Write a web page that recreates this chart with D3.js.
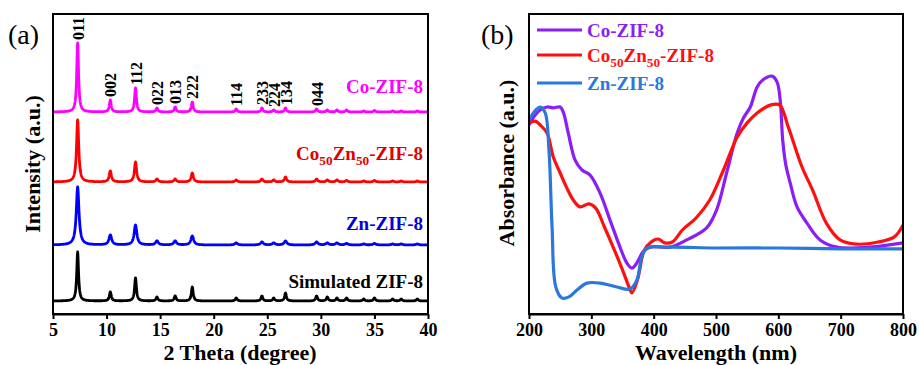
<!DOCTYPE html>
<html>
<head>
<meta charset="utf-8">
<script src="https://cdn.jsdelivr.net/npm/d3@7"></script>
<style>
  html, body { margin: 0; padding: 0; background: #fff; }
  svg { display: block; }
  text { font-family: "Liberation Serif", "Times New Roman", serif; }
</style>
</head>
<body>
<svg id="chart" width="919" height="365"></svg>
<script>
// ---------- (a) XRD patterns ----------
// Reflection positions (2θ, degrees) and their Miller indices
const peakPos   = [7.3, 10.35, 12.7, 14.7, 16.4, 18.0, 22.1, 24.5, 25.6, 26.7, 29.6, 30.6, 31.5, 32.4, 34.0, 35.0, 36.7, 37.5, 39.0];
const hklLabels = ["011", "002", "112", "022", "013", "222", "114", "233", "224", "134", "044"];

// Peak intensities (a.u.) for each sample, same order as peakPos
const intCo     = [69, 12, 24, 4, 5, 10, 3, 4, 2, 4, 3, 2, 2, 2, 1, 1.5, 1, 1, 1];
const intCoZn   = [62, 11, 20, 3, 3, 9, 2, 3, 2, 5, 3, 2, 2, 1.5, 1, 1.5, 1, 1, 1];
const intZn     = [58, 10, 20, 4, 4, 9, 2, 3, 2, 4, 3, 2, 2, 1.5, 1, 1.5, 1, 1, 1];
const intSim    = [49, 9, 23, 4, 5, 14, 3, 5, 3, 8, 5, 4, 3, 3, 2, 3, 2, 2, 2];

// Vertical stacking offsets and peak widths (FWHM, degrees)
const xrdNames   = ["Co-ZIF-8", "Co50Zn50-ZIF-8", "Zn-ZIF-8", "Simulated ZIF-8"];
const xrdOffsets = [202, 132, 69, 13];
const xrdFwhm    = [0.2, 0.24, 0.3, 0.2];
const xrdColors  = ["#ff00ff", "#ff0000", "#0000ff", "#000000"];
const xrdLabelColors = ["#ff00ff", "#e00000", "#0000dd", "#000000"];
const xrdTicks   = [5, 10, 15, 20, 25, 30, 35, 40];

// ---------- (b) UV-Vis absorbance ----------
const wlCo   = [200, 210, 218, 229, 239, 250, 255, 263, 274, 285, 298, 314, 330, 346, 357, 365, 373, 383, 394, 426, 453, 485, 501, 517, 534, 544, 555, 566, 575, 590, 598, 603, 607, 612, 619, 630, 646, 667, 694, 747, 800];
const absCo  = [0.630, 0.663, 0.680, 0.690, 0.687, 0.690, 0.673, 0.603, 0.513, 0.480, 0.463, 0.403, 0.313, 0.223, 0.170, 0.153, 0.170, 0.207, 0.223, 0.223, 0.247, 0.287, 0.347, 0.470, 0.603, 0.653, 0.690, 0.757, 0.780, 0.793, 0.773, 0.713, 0.580, 0.497, 0.437, 0.357, 0.303, 0.247, 0.223, 0.223, 0.237];

const wlCoZn  = [200, 210, 218, 229, 239, 250, 260, 271, 282, 296, 307, 321, 335, 350, 361, 365, 374, 385, 396, 407, 418, 430, 446, 468, 490, 512, 534, 550, 566, 588, 602, 616, 638, 655, 677, 699, 725, 760, 786, 800];
const absCoZn = [0.637, 0.643, 0.630, 0.603, 0.523, 0.470, 0.423, 0.380, 0.357, 0.367, 0.353, 0.290, 0.223, 0.147, 0.087, 0.070, 0.113, 0.213, 0.240, 0.250, 0.237, 0.240, 0.280, 0.320, 0.380, 0.480, 0.590, 0.637, 0.670, 0.697, 0.697, 0.623, 0.490, 0.413, 0.303, 0.247, 0.233, 0.240, 0.257, 0.297];

const wlZn   = [200, 211, 218, 226, 232, 237, 243, 253, 264, 277, 293, 314, 341, 362, 373, 381, 389, 426, 500, 600, 700, 800];
const absZn  = [0.647, 0.680, 0.690, 0.670, 0.547, 0.290, 0.090, 0.053, 0.057, 0.080, 0.103, 0.103, 0.090, 0.083, 0.113, 0.190, 0.220, 0.223, 0.220, 0.220, 0.217, 0.217];

const uvNames  = ["Co-ZIF-8", "Co50Zn50-ZIF-8", "Zn-ZIF-8"];
const uvColors = ["#8a1ef5", "#ff1010", "#2a78dc"];
const uvTicks  = [200, 300, 400, 500, 600, 700, 800];

// ---------- drawing ----------
const svg = d3.select("#chart");
svg.append("rect").attr("width", 919).attr("height", 365).attr("fill", "#fff");

const plotTop = 14, plotBottom = 314;

// Lorentzian sum of reflections for one pattern
function pattern(heights, fwhm, offset) {
  const g = fwhm / 2;
  const pts = [];
  for (let i = 0; i <= 1750; i++) {
    const x = 5 + i * 0.02;
    let y = offset;
    peakPos.forEach((p, k) => {
      const d = (x - p) / g;
      y += heights[k] / (1 + d * d);
    });
    pts.push([x, y]);
  }
  return pts;
}

// shared helpers
function frame(g, x0, x1) {
  g.append("rect").attr("x", x0).attr("y", plotTop).attr("width", x1 - x0).attr("height", plotBottom - plotTop)
    .attr("fill", "none").attr("stroke", "#000").attr("stroke-width", 2);
}
function bottomAxis(g, scale, ticks) {
  const ax = g.append("g").attr("transform", `translate(0,${plotBottom})`)
    .call(d3.axisBottom(scale).tickValues(ticks).tickSize(5).tickPadding(5).tickSizeOuter(0));
  ax.select(".domain").attr("stroke-width", 2);
  ax.selectAll(".tick line").attr("stroke-width", 2);
  ax.selectAll(".tick text").attr("font-family", "Liberation Serif").attr("font-weight", "bold")
    .attr("font-size", 18).attr("fill", "#000").attr("dy", "0.68em");
}
function subLabel(sel, base, fontSize) {
  // "Co50Zn50-ZIF-8" with subscripts
  if (base === "Co50Zn50-ZIF-8") {
    sel.append("tspan").text("Co");
    sel.append("tspan").text("50").attr("font-size", fontSize * 0.7).attr("dy", 5);
    sel.append("tspan").text("Zn").attr("dy", -5);
    sel.append("tspan").text("50").attr("font-size", fontSize * 0.7).attr("dy", 5);
    sel.append("tspan").text("-ZIF-8").attr("dy", -5);
  } else {
    sel.text(base);
  }
}

// ---- panel (a)
const gA = svg.append("g");
const xA = d3.scaleLinear().domain([5, 40]).range([53, 428]);
const yA = d3.scaleLinear().domain([0, 300]).range([plotBottom, plotTop]);

const xrdSets = [intCo, intCoZn, intZn, intSim];
const lineA = d3.line().x(d => xA(d[0])).y(d => yA(d[1]));
const clipA = gA.append("clipPath").attr("id", "clipA");
clipA.append("rect").attr("x", 53).attr("y", plotTop).attr("width", 375).attr("height", plotBottom - plotTop);

xrdSets.forEach((h, i) => {
  gA.append("path").datum(pattern(h, xrdFwhm[i], xrdOffsets[i]))
    .attr("d", lineA).attr("fill", "none").attr("stroke", xrdColors[i])
    .attr("stroke-width", 2.8).attr("stroke-linejoin", "round").attr("clip-path", "url(#clipA)");
});

// sample names on the right of each pattern
const nameBaselineGap = [19, 22, 15, 13];
xrdNames.forEach((n, i) => {
  const t = gA.append("text").attr("x", 423)
    .attr("y", yA(xrdOffsets[i]) - nameBaselineGap[i])
    .attr("text-anchor", "end").attr("font-weight", "bold").attr("font-size", 19)
    .attr("fill", xrdLabelColors[i]);
  subLabel(t, n, 19);
});

// Miller indices above the Co-ZIF-8 reflections
hklLabels.forEach((lab, k) => {
  const px = xA(peakPos[k]) + 6;
  const py = yA(xrdOffsets[0] + intCo[k]) - 3;
  gA.append("text").attr("transform", `translate(${px},${py}) rotate(-90)`)
    .attr("text-anchor", "start").attr("font-weight", "bold").attr("font-size", 16)
    .attr("fill", "#000").text(lab);
});

frame(gA, 53, 428);
bottomAxis(gA, xA, xrdTicks);
gA.append("text").attr("x", 240).attr("y", 360).attr("text-anchor", "middle")
  .attr("font-weight", "bold").attr("font-size", 22).text("2 Theta (degree)");
gA.append("text").attr("transform", "translate(40,164) rotate(-90)").attr("text-anchor", "middle")
  .attr("font-weight", "bold").attr("font-size", 22).text("Intensity (a.u.)");
gA.append("text").attr("x", 8).attr("y", 44).attr("font-size", 28).text("(a)");

// ---- panel (b)
const gB = svg.append("g");
const xB = d3.scaleLinear().domain([200, 800]).range([529, 903]);
const yB = d3.scaleLinear().domain([0, 1]).range([plotBottom, plotTop]);
const lineB = d3.line().x(d => xB(d[0])).y(d => yB(d[1])).curve(d3.curveCatmullRom.alpha(0.5));
const clipB = gB.append("clipPath").attr("id", "clipB");
clipB.append("rect").attr("x", 529).attr("y", plotTop).attr("width", 374).attr("height", plotBottom - plotTop);

const uvSets = [[wlCo, absCo], [wlCoZn, absCoZn], [wlZn, absZn]];
uvSets.forEach(([wl, ab], i) => {
  gB.append("path").datum(d3.zip(wl, ab)).attr("d", lineB)
    .attr("fill", "none").attr("stroke", uvColors[i]).attr("stroke-width", 3.2)
    .attr("stroke-linejoin", "round").attr("clip-path", "url(#clipB)");
});

// legend
const legY = [30, 55, 83];
uvNames.forEach((n, i) => {
  gB.append("line").attr("x1", 537).attr("x2", 582).attr("y1", legY[i]).attr("y2", legY[i])
    .attr("stroke", uvColors[i]).attr("stroke-width", 3.2);
  const t = gB.append("text").attr("x", 587).attr("y", legY[i] + 6.5)
    .attr("font-weight", "bold").attr("font-size", 19).attr("fill", uvColors[i]);
  subLabel(t, n, 19);
});

frame(gB, 529, 903);
bottomAxis(gB, xB, uvTicks);
gB.append("text").attr("x", 716).attr("y", 360).attr("text-anchor", "middle")
  .attr("font-weight", "bold").attr("font-size", 22).text("Wavelength (nm)");
gB.append("text").attr("transform", "translate(514,163) rotate(-90)").attr("text-anchor", "middle")
  .attr("font-weight", "bold").attr("font-size", 22).text("Absorbance (a.u.)");
gB.append("text").attr("x", 481).attr("y", 44).attr("font-size", 28).text("(b)");
</script>
</body>
</html>
